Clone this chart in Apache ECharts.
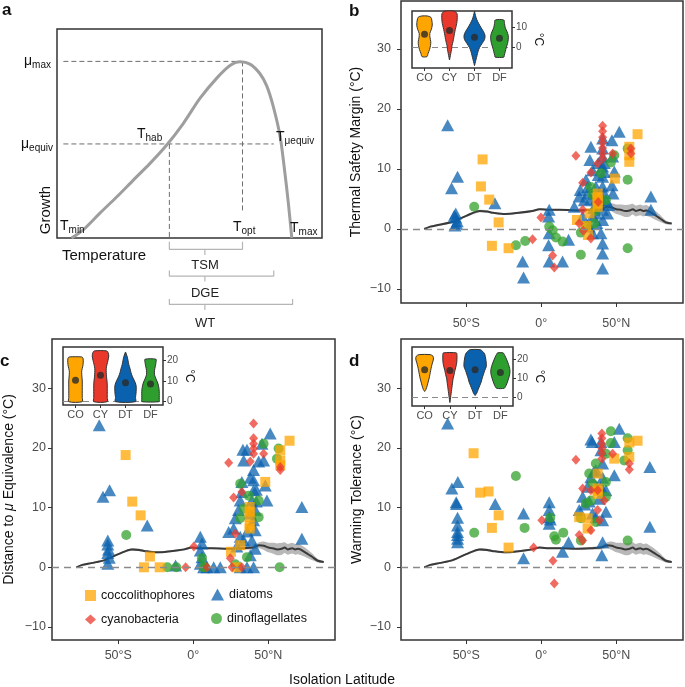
<!DOCTYPE html>
<html><head><meta charset="utf-8">
<script src="https://cdn.jsdelivr.net/npm/echarts@6/dist/echarts.min.js"></script>
<style>html,body{margin:0;padding:0;background:#fff}#chart{width:685px;height:687px}</style>
</head><body><div id="chart"></div>
<script>
// ---------- DATA ----------
// panel a: conceptual thermal performance curve (temperature, growth), arbitrary units 0..100
const curveX = [5.5, 9.9, 16.2, 22.5, 28.8, 35.1, 41.4, 47.7, 54, 60.3, 65.3, 69.1, 72.8, 76.6, 79.1, 81.6, 84.2, 86, 87.3, 88.6];
const curveY = [0, 3.9, 11.9, 19.6, 27.7, 35.7, 44.5, 54.9, 66.9, 76.5, 82.5, 84.3, 83.2, 78.6, 72.9, 63, 48.6, 31.1, 16.7, 0];
const muMax = 84.5, muEquiv = 45, tHab = 42.4, tOpt = 70, tMuEquiv = 81.8, tMax = 88.6;

// running mean across latitude (shared by b, c, d)
const runLat    = [-78, -74, -68, -59, -50, -41, -36, -32, -24, -15, -6, -1, 5, 12, 23, 34, 40, 44, 47, 50, 53, 56, 59, 61, 63, 66, 68, 70, 74, 79, 83, 87];
const runMean   = [0, 0.4, 0.7, 1.2, 2.2, 3.0, 2.9, 2.7, 2.5, 2.7, 3.0, 3.3, 3.2, 3.2, 3.1, 3.2, 3.3, 3.7, 3.6, 3.3, 3.2, 3.0, 3.1, 3.3, 3.0, 3.2, 3.0, 3.1, 2.6, 1.8, 1.1, 0.9];
const runSpread = [0.1, 0.15, 0.15, 0.15, 0.15, 0.2, 0.2, 0.15, 0.15, 0.15, 0.15, 0.15, 0.15, 0.15, 0.15, 0.2, 0.3, 0.5, 0.7, 0.8, 0.9, 1.0, 1.0, 0.9, 0.9, 0.9, 0.9, 0.9, 0.8, 0.6, 0.3, 0.1];

// panel b: thermal safety margin
const bDiatoms = [[-62.4,17.3],[-55.8,8.7],[-59.8,6.8],[-57,2.6],[-57,1.9],[-56,1.3],[-57.5,0.6],[-58,2.2],[-56.5,0.9],[-30.9,4.3],[-12.4,-5.4],[-11.8,-8.1],[5.3,3.2],[4.9,2.1],[5.3,-0.7],[4.9,-2.7],[5.3,-5.4],[14.2,-5.4],[18.2,-1.8],[33.1,13.7],[32.4,11.5],[25.3,5.4],[22,3.7],[27.6,2.1],[29.8,8.2],[34.2,9.8],[40.9,15.1],[40.9,13.4],[40.9,12.1],[40.9,10.4],[40.9,8.7],[40.9,7.1],[40.9,4.8],[40.9,3.2],[40.9,1.5],[39.8,-0.7],[40.9,-2.4],[40.9,-4.1],[40.9,-6.6],[36.4,4.8],[36.4,7.1],[36.4,2.6],[34.2,2.1],[30.9,5.9],[28.7,4.8],[43.1,4.8],[44.2,2.6],[47.1,14.8],[47.6,12.1],[48.7,9.6],[47.8,5.9],[47.1,7.3],[52,16.2],[73.1,5.4],[73.1,3.2],[34.2,-0.7],[32,0.4],[31,7],[33,5],[38,9],[38,11],[42,6],[42,9.5],[42,11],[35,3.5],[45,4],[26,6.5],[37,1]];
const bCoccos = [[-39.1,11.6],[-40.2,7.1],[-34.7,4.9],[-28.4,1.1],[-32.9,-2.8],[-21.8,-3.2],[64.2,15.8],[58.7,13.7],[58.7,12.3],[58.7,11.2],[37.6,5.9],[37.6,4.8],[37.6,3.7],[37.6,5.3],[37.6,4.2],[23.8,1.5],[31.1,-1],[32.2,2.6],[49.1,8.4],[30,0.5]];
const bCyano = [[-0.2,1.9],[-5.8,-1.7],[7.6,-4.4],[8.7,-6.4],[23.1,12.2],[27.6,3.2],[33.1,9.4],[27.6,7.7],[25.3,0.9],[33.1,-1.6],[37.6,10.9],[40.9,17.2],[40.9,16.3],[40.9,15.3],[40.9,14.4],[40.9,13.5],[40.9,12.6],[40.9,11.7],[47.6,12.6],[59.8,13.4],[59.8,12.6],[28,-0.3],[38,4.5]];
const bDinos = [[-44.7,3.7],[-16.9,-2.7],[-10.7,-2],[5.3,0.4],[7.6,-0.2],[9.8,-1.4],[14.2,-2.1],[26.4,-4.3],[26.4,-0.6],[29.8,0.4],[34.2,5.7],[39.8,9.3],[46.4,11.1],[48.7,12.3],[57.6,13.4],[57.6,8.2],[57.6,-3.2],[43.1,4.8],[35.3,0.9],[33,7],[36,3]];

// panel c: distance to mu equivalence
const cDiatoms = [[-62.7,23.8],[-60.2,11.8],[-55.8,12.9],[-30.7,7.0],[-57,4.5],[-57,3.8],[-56.5,3.0],[-57,2.4],[-56,1.6],[-57,0.6],[-11.8,0.3],[4.7,5.1],[5.8,4],[4.7,2.8],[5.8,1.7],[4.7,0.6],[6.9,0],[13.6,0],[18,0],[9.1,0],[33.1,19.7],[35.8,19.7],[33.6,17.9],[46.9,17.9],[51.3,22.4],[45.8,20.7],[40.2,16.3],[40.2,14.6],[40.2,12.9],[39.1,11.2],[41.3,9.6],[40.2,7.9],[41.3,6.2],[39.1,4.5],[41.3,3.1],[40.2,0],[32.4,14.3],[32.4,12.6],[31.3,11.2],[30.2,9.6],[28,8.2],[26.9,6.5],[23.6,5.9],[31.3,5.1],[33.6,4.5],[48,13.7],[49.1,11.2],[72.4,10.1],[72.4,4.8],[35.8,0],[31.3,0],[43.6,17.7],[38,15],[42,13],[38,9],[42,11],[36,6],[29,3.5],[38,2]];
const cCoccos = [[-45.1,18.8],[-40.7,11],[-35.1,8.7],[-28.9,1.8],[-32.9,0],[-22.4,0],[64.2,21.2],[58,19.6],[58,17.9],[58,17.1],[48,14.3],[37.6,10.1],[37.6,8.4],[37.6,7],[37.6,6.5],[25.1,2.6],[31.3,3.7],[29.1,0],[37.6,9.3]];
const cCyano = [[0.4,3.5],[-5.1,0],[9.1,0],[23.6,17.5],[40.2,24.1],[40.2,21.6],[40.2,20.7],[40.2,19.9],[40.2,19],[38,17.7],[46.9,19],[58,16.8],[58,16.3],[32.4,12.6],[26.9,11.7],[28,5.6],[24.7,1.5],[25.8,0],[32.4,0]];
const cDinos = [[-44.7,5.4],[-17.3,0],[-11.3,0],[5.8,1.5],[8,0],[46.9,20.7],[56.9,19.9],[55.8,18.2],[31.3,14],[33.6,9.8],[43.6,8.4],[31.3,8.2],[43.6,11.2],[35.8,1.7],[57.6,0],[6.9,0],[28,0.5],[37,12]];

// panel d: warming tolerance
const dDiatoms = [[-62.4,24.1],[-55.6,14.3],[-59.6,13.2],[-56.7,10.9],[-55.8,8.3],[-55.8,7],[-55.8,5.9],[-55.8,4.8],[-55.8,4.2],[-56.5,10.6],[-55.8,5.4],[-30.7,10.6],[-11.8,9],[-11.8,1.5],[5.3,10.9],[5.3,9.6],[5.3,8.4],[5.3,7.3],[6,8],[14.2,2.6],[18.2,4.2],[33.1,21.4],[52,23.2],[39.8,21],[39.8,19.6],[48.7,21],[40.9,17.4],[36.4,16.3],[48.7,15.4],[33.1,15.1],[30.9,13.5],[39.8,13.5],[43.1,12.9],[27.6,11.8],[38.7,11.5],[25.3,9.6],[34.2,9],[43.1,9.3],[40.9,7.9],[36.4,8.4],[72.4,16.8],[72.4,6.8],[40.9,4.2],[40.4,2],[34,21],[35,16],[37,13.5],[32,11],[29,10.5],[41,15]];
const dCoccos = [[-45.1,19.1],[-40.7,12.5],[-35.1,12.7],[-28.4,8.7],[-32.9,6.6],[-21.8,3.3],[64.2,21.2],[58.7,20.9],[58.7,18.5],[48.7,18.2],[37.6,15.7],[37.6,13.2],[37.6,12.3],[25.3,8.4],[30.9,8.2],[30.9,6.5],[37.6,12.8]];
const dCyano = [[0.4,7.9],[-5.1,3.3],[7.8,1.1],[8.7,-2.7],[40.4,22.4],[40.4,21.6],[40.4,20.7],[40.4,19.9],[40.4,19.1],[40.4,18.2],[23.1,18],[47.6,19],[58.7,17.4],[58.7,16.4],[37.6,12.9],[33.1,12.9],[27.6,13.2],[42,11.2],[37.6,9.6],[38.7,7.9],[33.1,6.2],[25.3,5.4],[27.6,4.5]];
const dDinos = [[-16.9,15.3],[-44.7,5.8],[-11.1,6.6],[6,8.3],[8.7,5.2],[9.8,4.6],[14.7,5.8],[46.4,22.8],[46.4,20.8],[57.6,21.6],[57.6,19.6],[55.3,17.9],[36.4,17.4],[43.1,19],[32,15.7],[34.2,14],[43.1,14.3],[33.1,11.2],[29.8,10.7],[43.1,11.8],[26.4,8.2],[36.4,7.6],[57.6,4.5],[26.4,4.5]];

// insets: violin profiles (value, relative half-width) and group means
const insetCats = ['CO', 'CY', 'DT', 'DF'];
const bViolinY = [[15.8,15.2,13.8,11.3,9,7,5,3,1,-1,-3,-4.5],[18.2,17,15,13,11,9,7,5,3,1,-1,-3,-5,-6.2],[18.2,16,14,12,10,8,6,4,2,0,-2,-4,-6,-8,-9],[13.8,12,10,8,6,4,2,0,-2,-4,-4.8]];
const bViolinW = [[0.12,0.25,0.29,0.31,0.27,0.21,0.22,0.25,0.24,0.2,0.14,0.1],[0.2,0.3,0.31,0.3,0.27,0.23,0.2,0.17,0.14,0.1,0.08,0.05,0.02,0],[0,0.04,0.09,0.17,0.26,0.36,0.42,0.4,0.3,0.2,0.14,0.1,0.06,0.02,0],[0.17,0.2,0.23,0.3,0.35,0.35,0.32,0.27,0.23,0.19,0.17]];
const bMeans = [6.7, 8.5, 5.2, 4.7];
const cViolinY = [[21.6,21,19,17,15,13,10,7,4,2,0],[24.5,23.5,22,20,18,16,14,12,10,8,5,2,0],[24,22,20,18,16,14,12,10,8,6,4,2,0],[20.5,19,17,15,13,11,9,7,5,3,1,0]];
const cViolinW = [[0.25,0.3,0.31,0.29,0.25,0.25,0.27,0.27,0.27,0.27,0.27],[0.25,0.31,0.33,0.3,0.26,0.23,0.23,0.24,0.26,0.27,0.27,0.27,0.27],[0,0.06,0.1,0.13,0.18,0.22,0.28,0.36,0.42,0.43,0.42,0.4,0.4],[0.22,0.22,0.19,0.16,0.16,0.22,0.29,0.33,0.35,0.35,0.35,0.35]];
const cMeans = [10.4, 12.8, 9.1, 8.5];
const dViolinY = [[22.3,21.5,20,18,16,14,12,10,8,6,4,3],[23.2,22,20,18,16,14,12,10,8,6,4,2,0,-2.8],[24.9,24,22.5,20,18,16,14,12,10,8,6,4,2,0.9],[23.2,22,20,18,16,14,12,10,8,6,4.7]];
const dViolinW = [[0.22,0.33,0.35,0.31,0.27,0.24,0.21,0.18,0.14,0.1,0.05,0],[0.26,0.28,0.28,0.27,0.24,0.2,0.17,0.13,0.11,0.09,0.07,0.05,0.03,0],[0.2,0.3,0.38,0.42,0.44,0.44,0.38,0.33,0.28,0.24,0.18,0.12,0.06,0],[0.11,0.17,0.24,0.3,0.35,0.38,0.37,0.33,0.28,0.22,0.15]];
const dMeans = [14.4, 14, 14.4, 13];

// tick labels
const latTicks = [-50, 0, 50];
const latTickLabels = ['50°S', '0°', '50°N'];
const mainYTicks = [-10, 0, 10, 20, 30];
const bInsetTicks = [0, 10];
const cdInsetTicks = [0, 10, 20];

// ---------- STYLE ----------
const FONT = '"Liberation Sans", Arial, Helvetica, sans-serif';
const groupColors = { coccolithophores: '#FFA500', cyanobacteria: '#EB3B2D', diatoms: '#0B62AE', dinoflagellates: '#34A12C' };
const groupSymbols = { coccolithophores: ['rect', 10], cyanobacteria: ['diamond', [9, 10]], diatoms: ['triangle', [13, 12]], dinoflagellates: ['circle', 10] };
const violinColors = ['#FFA500', '#E8392A', '#0A62AE', '#2E9E2E'];
const fmtNum = v => v < 0 ? '\u2212' + (-v) : String(v);

const grids = [
  { left: 57, top: 29, width: 265, height: 209 },   // a
  { left: 401, top: 1, width: 282, height: 302 },   // b
  { left: 52, top: 339, width: 283, height: 301 },  // c
  { left: 401, top: 339, width: 282, height: 301 }, // d
  { left: 412, top: 11, width: 100, height: 57 },   // b inset
  { left: 63, top: 347, width: 100, height: 58 },   // c inset
  { left: 412, top: 347, width: 101, height: 59 }   // d inset
].map(g => Object.assign({ show: true, borderColor: '#333', borderWidth: 1.5, backgroundColor: 'transparent', containLabel: false }, g));

const xAxes = [], yAxes = [];
// a
xAxes.push({ gridIndex: 0, type: 'value', min: 0, max: 100, show: false });
yAxes.push({ gridIndex: 0, type: 'value', min: 0, max: 100, show: false });
// main panels
const mainX = (gi, min, max, margin) => ({
  gridIndex: gi, type: 'value', min, max,
  axisLine: { show: false, onZero: false },
  axisTick: { show: true, length: 4, lineStyle: { color: '#333' }, customValues: latTicks },
  axisLabel: { customValues: latTicks, formatter: v => latTickLabels[latTicks.indexOf(v)], fontSize: 12.5, color: '#4d4d4d', margin, fontFamily: FONT },
  splitLine: { show: false }
});
const mainY = (gi, min, max, name, margin, gap, rich) => ({
  gridIndex: gi, type: 'value', min, max,
  axisLine: { show: false, onZero: false },
  axisTick: { show: true, length: 4, lineStyle: { color: '#333' }, customValues: mainYTicks },
  axisLabel: { customValues: mainYTicks, formatter: fmtNum, fontSize: 12.5, color: '#4d4d4d', margin, fontFamily: FONT },
  splitLine: { show: false },
  name, nameLocation: 'middle', nameGap: gap,
  nameTextStyle: { fontSize: 14, color: '#111', fontFamily: FONT, rich: rich || {} }
});
xAxes.push(mainX(1, -93.5, 94.5, 14));
yAxes.push(mainY(1, -12.33, 38.0, 'Thermal Safety Margin (°C)', 10, 38));
xAxes.push(mainX(2, -94.2, 94.5, 9));
yAxes.push(mainY(2, -12.18, 38.24, 'Distance to {i|μ} Equivalence (°C)', 6, 36,
  { i: { fontStyle: 'italic', fontSize: 14, color: '#111', fontFamily: FONT } }));
xAxes.push(mainX(3, -93.5, 94.5, 9));
yAxes.push(mainY(3, -12.18, 38.24, 'Warming Tolerance (°C)', 10, 37));
// insets
const insetX = gi => ({
  gridIndex: gi, type: 'category', data: insetCats, boundaryGap: true,
  axisLine: { show: false, onZero: false },
  axisTick: { show: true, length: 3, alignWithLabel: true, lineStyle: { color: '#333' } },
  axisLabel: { fontSize: 11, color: '#4d4d4d', margin: 4, fontFamily: FONT }
});
const insetY = (gi, min, max, ticks) => ({
  gridIndex: gi, type: 'value', min, max, position: 'right',
  axisLine: { show: false, onZero: false },
  axisTick: { show: true, length: 3, lineStyle: { color: '#333' }, customValues: ticks },
  axisLabel: { customValues: ticks, fontSize: 10, color: '#4d4d4d', margin: 4, fontFamily: FONT },
  splitLine: { show: false },
  name: '°C', nameLocation: 'middle', nameRotate: -90, nameGap: 20,
  nameTextStyle: { fontSize: 12, color: '#111', fontFamily: FONT }
});
xAxes.push(insetX(4)); yAxes.push(insetY(4, -10.2, 18.3, bInsetTicks));
xAxes.push(insetX(5)); yAxes.push(insetY(5, -1.6, 26.4, cdInsetTicks));
xAxes.push(insetX(6)); yAxes.push(insetY(6, -4.6, 26.3, cdInsetTicks));

// ---------- SERIES ----------
const series = [];

// panel a
series.push({ type: 'line', xAxisIndex: 0, yAxisIndex: 0, data: curveX.map((x, i) => [x, curveY[i]]), smooth: 0.3, showSymbol: false, lineStyle: { color: '#9e9e9e', width: 3 }, z: 3 });
const dashA = { color: '#6e6e6e', width: 1, type: [5, 3] };
const segA = (pts, style, z) => series.push({ type: 'line', xAxisIndex: 0, yAxisIndex: 0, data: pts, showSymbol: false, clip: false, lineStyle: style, z: z || 2, silent: true });
segA([[2.4, muMax], [68.8, muMax]], dashA);
segA([[2.4, muEquiv], [tMuEquiv, muEquiv]], dashA);
segA([[tHab, muEquiv], [tHab, 0]], dashA);
segA([[tOpt, muMax], [tOpt, 12]], dashA);
const bracketStyle = { color: '#b5b5b5', width: 1.2 };
const brackets = [[tHab, tOpt, -1.8, -5.4, -8.1], [tHab, tMuEquiv, -15.6, -18.2, -20.8], [tHab, tMax + 0.3, -29.2, -31.8, -34.4]];
const bracketMid = 55.8;
brackets.forEach(b => segA([[b[0], b[2]], [b[0], b[3]], [bracketMid, b[3]], [bracketMid, b[4]], [bracketMid, b[3]], [b[1], b[3]], [b[1], b[2]]], bracketStyle));

// main panels
function addMain(gi, sets) {
  series.push({
    type: 'custom', xAxisIndex: gi, yAxisIndex: gi, data: [[runLat[0], runMean[0]]], silent: true, z: 1,
    encode: { x: 0, y: 1 },
    renderItem: (params, api) => {
      const up = runLat.map((x, i) => api.coord([x, runMean[i] + runSpread[i]]));
      const dn = runLat.map((x, i) => api.coord([x, runMean[i] - runSpread[i]])).reverse();
      return { type: 'polygon', shape: { points: up.concat(dn), smooth: 0.2 }, style: { fill: 'rgba(125,125,125,0.55)' } };
    },
    markLine: { silent: true, symbol: 'none', label: { show: false }, lineStyle: { color: '#8a8a8a', width: 1.3, type: [7, 5] }, data: [{ yAxis: 0 }] }
  });
  series.push({ type: 'line', xAxisIndex: gi, yAxisIndex: gi, data: runLat.map((x, i) => [x, runMean[i]]), showSymbol: false, smooth: 0.3, lineStyle: { color: '#3a3a3a', width: 2 }, z: 2, silent: true });
  ['diatoms', 'dinoflagellates', 'coccolithophores', 'cyanobacteria'].forEach(name => {
    series.push({
      type: 'scatter', name, xAxisIndex: gi, yAxisIndex: gi, data: sets[name],
      symbol: groupSymbols[name][0], symbolSize: groupSymbols[name][1],
      itemStyle: { color: groupColors[name], opacity: 0.75 }, z: 3
    });
  });
}
addMain(1, { diatoms: bDiatoms, coccolithophores: bCoccos, cyanobacteria: bCyano, dinoflagellates: bDinos });
addMain(2, { diatoms: cDiatoms, coccolithophores: cCoccos, cyanobacteria: cCyano, dinoflagellates: cDinos });
addMain(3, { diatoms: dDiatoms, coccolithophores: dCoccos, cyanobacteria: dCyano, dinoflagellates: dDinos });

// insets
function addInset(gi, vy, vw, means) {
  series.push({
    type: 'custom', xAxisIndex: gi, yAxisIndex: gi, silent: true, z: 4,
    data: means.map((m, i) => [i, m]), encode: { x: 0, y: 1 },
    renderItem: (params, api) => {
      const i = params.dataIndex;
      const band = api.size([1, 0])[0];
      const ys = vy[i], ws = vw[i];
      const right = ys.map((y, k) => { const c = api.coord([i, y]); return [c[0] + ws[k] * band, c[1]]; });
      const left = ys.map((y, k) => { const c = api.coord([i, y]); return [c[0] - ws[k] * band, c[1]]; }).reverse();
      return { type: 'polygon', shape: { points: right.concat(left), smooth: 0.3 }, style: { fill: violinColors[i], stroke: '#333', lineWidth: 1 } };
    },
    markLine: { silent: true, symbol: 'none', label: { show: false }, z: 3, lineStyle: { color: '#8a8a8a', width: 1.2, type: [6, 4] }, data: [{ yAxis: 0 }] }
  });
  series.push({ type: 'scatter', xAxisIndex: gi, yAxisIndex: gi, data: means.map((m, i) => [i, m]), symbolSize: 7, itemStyle: { color: '#2b2b2b' }, z: 5, silent: true });
}
addInset(4, bViolinY, bViolinW, bMeans);
addInset(5, cViolinY, cViolinW, cMeans);
addInset(6, dViolinY, dViolinW, dMeans);

// ---------- LEGEND ----------
const legendItem = (name, left, top, w, h) => ({
  data: [{ name, icon: groupSymbols[name][0] }], left, top, itemWidth: w, itemHeight: h, selectedMode: false,
  textStyle: { fontSize: 12.5, color: '#111', fontFamily: FONT }, padding: 0, itemGap: 0
});
const legends = [
  legendItem('coccolithophores', 85, 589, 11, 11),
  legendItem('diatoms', 211, 588, 13, 12),
  legendItem('cyanobacteria', 85, 613, 11, 10),
  legendItem('dinoflagellates', 211, 612, 11, 11)
];

// ---------- TEXT ----------
const sub = { m: { fontSize: 14, fontFamily: FONT, fill: '#111', color: '#111' }, s: { fontSize: 10, fontFamily: FONT, fill: '#111', color: '#111', padding: [8, 0, 0, 0] } };
const txt = (x, y, text, align, extra) => ({
  type: 'text', x, y, silent: true, z: 10,
  style: Object.assign({ text, fill: '#111', fontSize: 14, fontFamily: FONT, align, textAlign: align, verticalAlign: 'middle', textVerticalAlign: 'middle', rich: sub }, extra || {})
});
const graphics = [
  txt(2, 10, 'a', 'left', { fontSize: 17, fontWeight: 'bold' }),
  txt(349, 11, 'b', 'left', { fontSize: 17, fontWeight: 'bold' }),
  txt(0, 361, 'c', 'left', { fontSize: 17, fontWeight: 'bold' }),
  txt(349, 361, 'd', 'left', { fontSize: 17, fontWeight: 'bold' }),
  txt(51, 61, '{m|μ}{s|max}', 'right'),
  txt(53, 144, '{m|μ}{s|equiv}', 'right'),
  txt(137, 134, '{m|T}{s|hab}', 'left'),
  txt(276, 137, '{m|T}{s|μequiv}', 'left'),
  txt(60, 226, '{m|T}{s|min}', 'left'),
  txt(233, 227, '{m|T}{s|opt}', 'left'),
  txt(290, 228, '{m|T}{s|max}', 'left'),
  txt(62, 256, 'Temperature', 'left', { fontSize: 15 }),
  Object.assign(txt(46, 210, 'Growth', 'center', { fontSize: 15 }), { rotation: Math.PI / 2 }),
  txt(205, 265, 'TSM', 'center', { fontSize: 13, fill: '#222' }),
  txt(205, 293, 'DGE', 'center', { fontSize: 13, fill: '#222' }),
  txt(205, 323, 'WT', 'center', { fontSize: 13, fill: '#222' }),
  txt(342, 680, 'Isolation Latitude', 'center', { fontSize: 14 })
];

const chart = echarts.init(document.getElementById('chart'), null, { renderer: 'canvas' });
chart.setOption({
  animation: false,
  backgroundColor: '#fff',
  textStyle: { fontFamily: FONT },
  grid: grids, xAxis: xAxes, yAxis: yAxes,
  legend: legends,
  series,
  graphic: graphics
});
</script></body></html>
